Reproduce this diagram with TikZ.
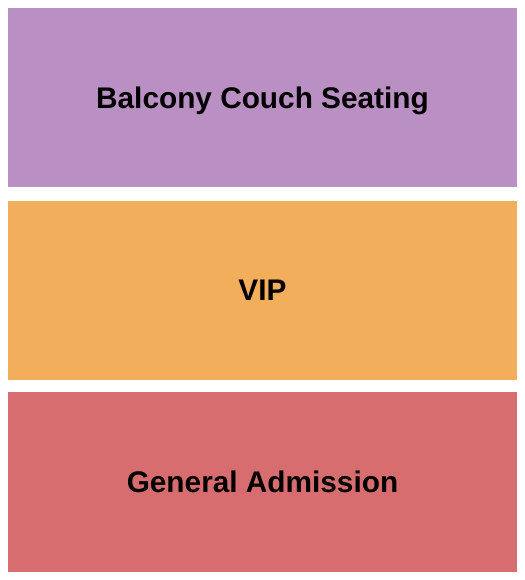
\documentclass[tikz,border=0pt]{standalone}
\usepackage{fontspec}
\setmainfont{Liberation Sans}
\usetikzlibrary{positioning}
\definecolor{balcony}{HTML}{BA8FC3}
\definecolor{vip}{HTML}{F3AE5B}
\definecolor{general}{HTML}{D76D6E}
\tikzstyle{section}=[rectangle, inner sep=0pt, minimum width=509bp, minimum height=179.5bp, text depth=0pt, font=\fontsize{29.9}{34}\selectfont\bfseries, text=black]

\begin{document}
\begin{tikzpicture}[x=1bp, y=-1bp]
    \useasboundingbox (0,0) rectangle (525,580);
% Sections
    \node[section, fill=balcony] (balcony) at (262.5,97.5) {Balcony Couch Seating};
    \node[section, fill=vip] (vip) at (262.5,290.5) {VIP};
    \node[section, fill=general] (general) at (262.5,482) {General Admission};
\end{tikzpicture}
\end{document}
